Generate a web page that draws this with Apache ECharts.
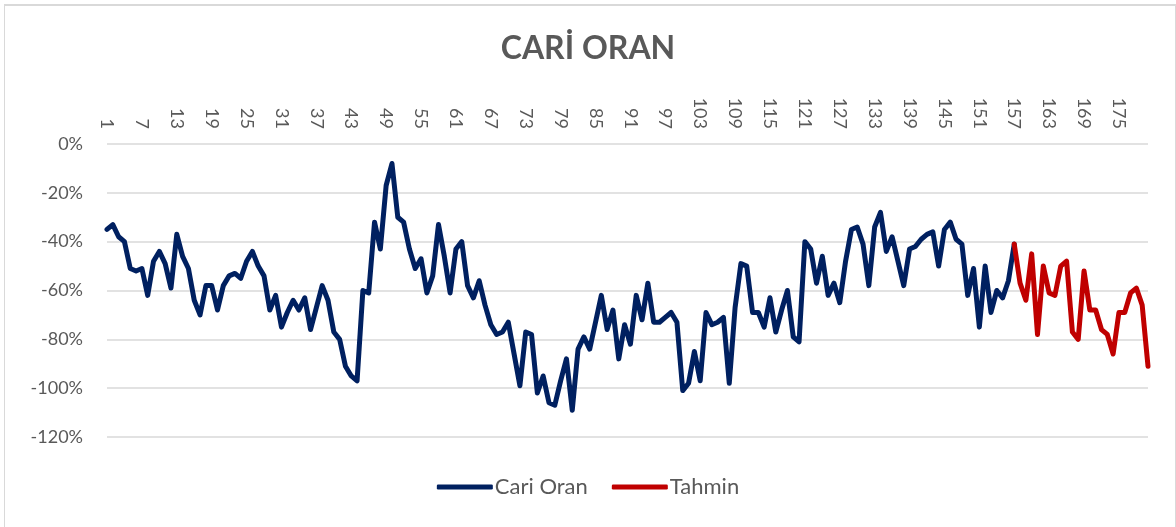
<!DOCTYPE html>
<html>
<head>
<meta charset="utf-8">
<style>
  html, body { margin: 0; padding: 0; background: #fff; }
  #frame { position: absolute; left: 4px; top: 4px; width: 1170px; height: 530px; border: 1px solid #d9d9d9; border-top: 2px solid #d9d9d9; }
  #chart { position: absolute; left: 0; top: 0; width: 1176px; height: 527px; }
</style>
<script src="https://cdn.jsdelivr.net/npm/echarts@6/dist/echarts.min.js"></script>
</head>
<body>
<div id="frame"></div>
<div id="chart"></div>
<script>
// period numbers 1..180
var periods = [];
for (var i = 1; i <= 180; i++) periods.push(String(i));

// Cari Oran, periods 1..157 (%)
var cariOran = [
  -35, -33, -38, -40, -51, -52, -51, -62, -48, -44,
  -49, -59, -37, -46, -51, -64, -70, -58, -58, -68,
  -58, -54, -53, -55, -48, -44, -50, -54, -68, -62,
  -75, -69, -64, -68, -63, -76, -67, -58, -64, -77,
  -80, -91, -95, -97, -60, -61, -32, -43, -17, -8,
  -30, -32, -43, -51, -47, -61, -54, -33, -46, -61,
  -43, -40, -58, -63, -56, -66, -74, -78, -77, -73,
  -86, -99, -77, -78, -102, -95, -106, -107, -97, -88,
  -109, -84, -79, -84, -73, -62, -76, -68, -88, -74,
  -82, -62, -72, -57, -73, -73, -71, -69, -73, -101,
  -98, -85, -97, -69, -74, -73, -71, -98, -67, -49,
  -50, -69, -69, -75, -63, -77, -68, -60, -79, -81,
  -40, -43, -57, -46, -62, -57, -65, -48, -35, -34,
  -41, -58, -34, -28, -44, -38, -48, -58, -43, -42,
  -39, -37, -36, -50, -35, -32, -39, -41, -62, -51,
  -75, -50, -69, -60, -63, -56, -41
];

// Tahmin, periods 157..180 (%)
var tahmin = [
  -41, -57, -64, -45, -78, -50, -61, -62, -50, -48,
  -77, -80, -52, -68, -68, -76, -78, -86, -69, -69,
  -61, -59, -66, -91
];

var yTicks = { min: -120, max: 0, step: 20 };

var tahminData = new Array(cariOran.length - 1).fill(null).concat(tahmin);

var textColor = "#595959";
var chart = echarts.init(document.getElementById("chart"));
chart.setOption({
  animation: false,
  title: {
    text: "CARİ ORAN",
    left: "center",
    top: 28,
    textStyle: { fontFamily: "Lato", fontSize: 32, fontWeight: "bold", color: textColor },
  },
  legend: {
    bottom: 24,
    left: "center",
    itemGap: 24,
    itemWidth: 56,
    itemHeight: 5,
    icon: "roundRect",
    textStyle: { fontFamily: "Lato", fontSize: 22, color: textColor, padding: [0, 0, 0, -3] },
    data: ["Cari Oran", "Tahmin"],
  },
  grid: { left: 107, right: 28, top: 144, bottom: 90 },
  xAxis: {
    type: "category",
    position: "top",
    boundaryGap: false,
    data: periods,
    axisLine: { show: false, onZero: false },
    axisTick: { show: false },
    axisLabel: {
      interval: 5,
      rotate: 90,
      margin: 15,
      fontFamily: "Lato",
      fontSize: 18,
      color: textColor,
    },
  },
  yAxis: {
    type: "value",
    min: yTicks.min,
    max: yTicks.max,
    interval: yTicks.step,
    axisLine: { show: false },
    axisTick: { show: false },
    axisLabel: {
      margin: 24,
      fontFamily: "Lato",
      fontSize: 18,
      color: textColor,
      formatter: function (v) { return v + "%"; },
    },
    splitLine: { lineStyle: { color: "#d9d9d9", width: 1.5 } },
  },
  series: [
    {
      name: "Cari Oran",
      type: "line",
      data: cariOran,
      symbol: "none",
      lineStyle: { color: "#002060", width: 5, join: "round", cap: "round" },
      itemStyle: { color: "#002060" },
    },
    {
      name: "Tahmin",
      type: "line",
      data: tahminData,
      symbol: "none",
      lineStyle: { color: "#c00000", width: 5, join: "round", cap: "round" },
      itemStyle: { color: "#c00000" },
    },
  ],
});
</script>
</body>
</html>
